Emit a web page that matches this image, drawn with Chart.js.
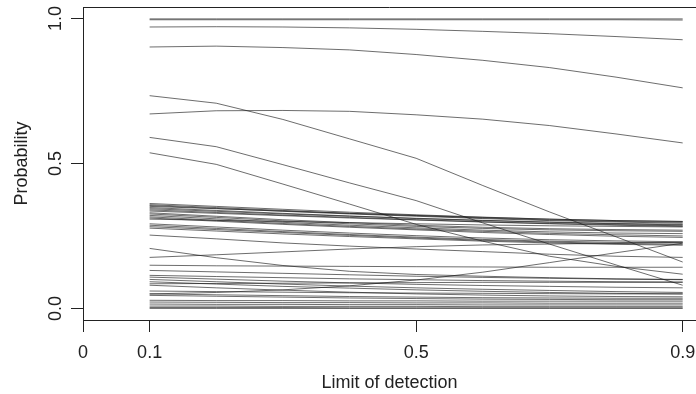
<!DOCTYPE html>
<html>
<head>
<meta charset="utf-8">
<script src="https://cdn.jsdelivr.net/npm/chart.js@4/dist/chart.umd.min.js"></script>
<style>
  html, body { margin: 0; padding: 0; background: #fff; }
  #wrap { width: 696px; height: 394px; }
</style>
</head>
<body>
<div id="wrap"><canvas id="lodChart"></canvas></div>
<script>
// limit of detection values where each curve is evaluated
const lodValues = [0.1, 0.2, 0.3, 0.4, 0.5, 0.6, 0.7, 0.8, 0.9];

const xTicks = [0, 0.1, 0.5, 0.9];
const xTickLabels = ['0', '0.1', '0.5', '0.9'];
const yTicks = [0, 0.5, 1];
const yTickLabels = ['0.0', '0.5', '1.0'];

// curves near the top
const highLines = [
  [0.999, 0.999, 0.999, 0.999, 0.999, 0.999, 0.999, 0.999, 0.999],
  [0.996, 0.996, 0.996, 0.996, 0.996, 0.996, 0.996, 0.996, 0.995],
  [0.971, 0.972, 0.971, 0.968, 0.963, 0.956, 0.948, 0.938, 0.927],
  [0.902, 0.905, 0.900, 0.892, 0.876, 0.856, 0.831, 0.798, 0.761],
  [0.671, 0.682, 0.683, 0.680, 0.668, 0.653, 0.631, 0.602, 0.571]
];

// curves that fall steeply
const steepLines = [
  [0.734, 0.708, 0.652, 0.585, 0.518, 0.424, 0.333, 0.247, 0.160],
  [0.590, 0.558, 0.496, 0.433, 0.372, 0.295, 0.222, 0.150, 0.080],
  [0.537, 0.497, 0.429, 0.360, 0.290, 0.232, 0.180, 0.145, 0.118]
];

// the dense band between 0.2 and 0.36
const bandLines = [
  [0.362, 0.352, 0.342, 0.332, 0.323, 0.315, 0.308, 0.303, 0.300],
  [0.358, 0.348, 0.338, 0.328, 0.320, 0.312, 0.305, 0.300, 0.297],
  [0.355, 0.345, 0.335, 0.326, 0.318, 0.310, 0.303, 0.298, 0.294],
  [0.352, 0.344, 0.336, 0.328, 0.321, 0.314, 0.308, 0.303, 0.300],
  [0.348, 0.338, 0.328, 0.319, 0.311, 0.304, 0.298, 0.293, 0.290],
  [0.344, 0.335, 0.326, 0.318, 0.310, 0.303, 0.297, 0.292, 0.288],
  [0.340, 0.331, 0.322, 0.314, 0.306, 0.299, 0.293, 0.289, 0.285],
  [0.336, 0.328, 0.320, 0.312, 0.305, 0.298, 0.292, 0.287, 0.283],
  [0.330, 0.318, 0.306, 0.296, 0.287, 0.280, 0.275, 0.272, 0.270],
  [0.326, 0.314, 0.302, 0.292, 0.283, 0.276, 0.271, 0.268, 0.266],
  [0.321, 0.309, 0.297, 0.287, 0.278, 0.270, 0.264, 0.260, 0.258],
  [0.316, 0.304, 0.293, 0.283, 0.274, 0.266, 0.259, 0.254, 0.250],
  [0.312, 0.301, 0.290, 0.280, 0.271, 0.262, 0.255, 0.249, 0.245],
  [0.308, 0.304, 0.300, 0.296, 0.292, 0.288, 0.285, 0.283, 0.281],
  [0.292, 0.281, 0.270, 0.260, 0.251, 0.243, 0.237, 0.233, 0.230],
  [0.287, 0.276, 0.265, 0.255, 0.246, 0.238, 0.232, 0.228, 0.226],
  [0.282, 0.272, 0.262, 0.252, 0.243, 0.235, 0.229, 0.224, 0.221],
  [0.277, 0.267, 0.257, 0.248, 0.240, 0.232, 0.226, 0.221, 0.218],
  [0.253, 0.240, 0.226, 0.215, 0.205, 0.196, 0.187, 0.180, 0.176],
  [0.207, 0.175, 0.148, 0.128, 0.117, 0.111, 0.106, 0.102, 0.100],
  [0.176, 0.185, 0.195, 0.205, 0.213, 0.219, 0.222, 0.225, 0.228]
];

// curves close to zero
const lowLines = [
  [0.149, 0.147, 0.146, 0.145, 0.144, 0.143, 0.142, 0.142, 0.142],
  [0.131, 0.126, 0.121, 0.116, 0.111, 0.107, 0.104, 0.101, 0.099],
  [0.114, 0.110, 0.106, 0.102, 0.099, 0.096, 0.094, 0.092, 0.091],
  [0.108, 0.101, 0.094, 0.088, 0.083, 0.079, 0.076, 0.073, 0.071],
  [0.100, 0.092, 0.084, 0.077, 0.071, 0.066, 0.062, 0.058, 0.055],
  [0.092, 0.084, 0.076, 0.070, 0.064, 0.059, 0.055, 0.052, 0.050],
  [0.085, 0.086, 0.087, 0.088, 0.089, 0.090, 0.090, 0.090, 0.090],
  [0.080, 0.071, 0.063, 0.056, 0.050, 0.046, 0.043, 0.041, 0.040],
  [0.050, 0.055, 0.064, 0.078, 0.098, 0.125, 0.158, 0.192, 0.225],
  [0.060, 0.058, 0.056, 0.054, 0.053, 0.052, 0.051, 0.050, 0.050],
  [0.050, 0.047, 0.044, 0.041, 0.039, 0.037, 0.036, 0.035, 0.035],
  [0.045, 0.042, 0.039, 0.036, 0.034, 0.032, 0.031, 0.030, 0.030],
  [0.028, 0.027, 0.027, 0.026, 0.026, 0.025, 0.025, 0.025, 0.025],
  [0.022, 0.021, 0.020, 0.020, 0.019, 0.019, 0.018, 0.018, 0.018],
  [0.015, 0.014, 0.014, 0.013, 0.013, 0.012, 0.012, 0.012, 0.012],
  [0.008, 0.008, 0.007, 0.007, 0.007, 0.006, 0.006, 0.006, 0.006],
  [0.003, 0.003, 0.003, 0.002, 0.002, 0.002, 0.002, 0.002, 0.002],
  [0.000, 0.000, 0.000, 0.000, 0.000, 0.000, 0.000, 0.000, 0.000]
];

const allLines = [...highLines, ...steepLines, ...bandLines, ...lowLines];

const axisColor = '#222';
const baseFont = { family: "'Liberation Sans', Arial, sans-serif", size: 18 };

// top edge of the plot box (R draws a full box)
const boxTop = {
  id: 'boxTop',
  afterDraw(chart) {
    const { ctx, chartArea } = chart;
    ctx.save();
    ctx.strokeStyle = axisColor;
    ctx.lineWidth = 1;
    ctx.beginPath();
    ctx.moveTo(chartArea.left, Math.round(chartArea.top) + 0.5);
    ctx.lineTo(chartArea.right, Math.round(chartArea.top) + 0.5);
    ctx.stroke();
    ctx.restore();
  }
};

const datasets = allLines.map((vals, i) => ({
  label: 'curve ' + (i + 1),
  data: vals.map((v, j) => ({ x: lodValues[j], y: v })),
  borderColor: 'rgba(25, 25, 25, 0.8)',
  borderWidth: 0.8,
  pointRadius: 0,
  fill: false,
  tension: 0
}));

new Chart(document.getElementById('lodChart'), {
  type: 'line',
  data: { datasets },
  options: {
    responsive: true,
    maintainAspectRatio: false,
    animation: false,
    layout: { padding: { top: 7, left: 0, right: 0, bottom: 0 } },
    plugins: { legend: { display: false }, tooltip: { enabled: false } },
    scales: {
      x: {
        type: 'linear',
        min: 0,
        max: 0.92,
        afterBuildTicks: s => { s.ticks = xTicks.map(v => ({ value: v })); },
        afterFit: s => { s.height = 74; s.paddingLeft = 0; s.paddingRight = 0; },
        ticks: {
          callback: v => xTickLabels[xTicks.indexOf(v)],
          color: axisColor,
          font: baseFont,
          padding: 10,
          maxRotation: 0,
          autoSkip: false
        },
        grid: { drawOnChartArea: false, drawTicks: true, tickLength: 12, color: axisColor },
        border: { display: true, color: axisColor, width: 1 },
        title: {
          display: true,
          text: 'Limit of detection',
          color: axisColor,
          font: baseFont,
          padding: { top: 0, bottom: 0 }
        }
      },
      y: {
        min: -0.04,
        max: 1.04,
        afterBuildTicks: s => { s.ticks = yTicks.map(v => ({ value: v })); },
        afterFit: s => { s.width = 83; s.paddingTop = 0; s.paddingBottom = 0; },
        ticks: {
          callback: v => yTickLabels[yTicks.indexOf(v)],
          color: axisColor,
          font: baseFont,
          minRotation: 90,
          maxRotation: 90,
          crossAlign: 'center',
          padding: 2
        },
        grid: { drawOnChartArea: false, drawTicks: true, tickLength: 12, color: axisColor },
        border: { display: true, color: axisColor, width: 1 },
        title: {
          display: true,
          text: 'Probability',
          color: axisColor,
          font: baseFont,
          padding: { top: 11, bottom: 0 }
        }
      }
    }
  },
  plugins: [boxTop]
});
</script>
</body>
</html>
